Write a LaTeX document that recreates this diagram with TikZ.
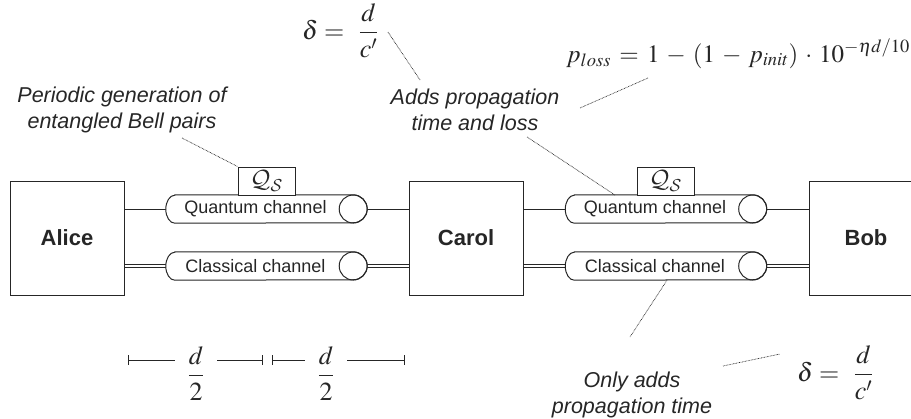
\documentclass[tikz,border=0pt]{standalone}
\usepackage{amsmath}
\usepackage{mathptmx}
\usepackage[no-math]{fontspec}
\setsansfont{Liberation Sans}
\DeclareMathAlphabet{\mathcal}{OMS}{cmsy}{m}{n}
\usetikzlibrary{calc}
\definecolor{ink}{HTML}{262626}

% capsule-shaped channel drawn over an (empty) placeholder node
\newcommand\chanshape[2]{%
  \draw[wire, fill=white] ($(#1.north west)+(9,0)$) -- ($(#1.north east)+(-14,0)$)
     arc[start angle=90, end angle=-90, radius=14pt]
     -- ($(#1.south west)+(9,0)$)
     arc[start angle=270, end angle=90, x radius=9pt, y radius=14pt] -- cycle;
  \draw[wire] ($(#1.east)+(-14,0)$) circle[radius=14pt];
  \node[chanlabel] (#1lbl) at ($(#1.center)+(-11,0)$) {#2};
}

\begin{document}
\begin{tikzpicture}[x=1pt,y=-1pt,
  wire/.style={draw=ink, line width=1pt},
  classic/.style={draw=ink, line width=0.85pt, double=white, double distance=2.5pt},
  leader/.style={draw=ink, line width=0.7pt, dash pattern=on 0.7pt off 0.8pt},
  party/.style={draw=ink, line width=1pt, minimum width=114pt, minimum height=114pt,
    inner sep=0pt, font=\sffamily\bfseries\fontsize{22}{26}\selectfont, text=ink},
  chan/.style={minimum width=201pt, minimum height=28pt, inner sep=0pt},
  chanlabel/.style={font=\sffamily\fontsize{18}{22}\selectfont, text=ink, inner sep=0pt},
  source/.style={draw=ink, line width=1pt, minimum width=57pt, minimum height=28pt,
    inner sep=0pt, fill=white, text=ink, font=\fontsize{25}{30}\selectfont},
  note/.style={font=\sffamily\itshape\fontsize{21.5}{26}\selectfont, align=center,
    text=ink, inner sep=0pt},
  eqn/.style={inner sep=0pt, text=ink, font=\fontsize{26}{30}\selectfont},
]
\useasboundingbox (0,0) rectangle (911,418);
\clip (0,0) rectangle (911,418);

% parties
\node[party] (alice) at (67,238) {Alice};
\node[party] (carol) at (466,238) {Carol};
\node[party] (bob) at (866,238) {Bob};

% channel placeholders
\node[chan] (q1) at (266.5,209) {};
\node[chan] (c1) at (266.5,266) {};
\node[chan] (q2) at (666,209) {};
\node[chan] (c2) at (666,266) {};

% links between parties and channels
\draw[wire] (alice.east |- q1.west) -- (q1.west);
\draw[wire] (q1.east) -- (carol.west |- q1.east);
\draw[wire] (carol.east |- q2.west) -- (q2.west);
\draw[wire] (q2.east) -- (bob.west |- q2.east);
\draw[classic] (alice.east |- c1.west) -- (c1.west);
\draw[classic] (c1.east) -- (carol.west |- c1.east);
\draw[classic] (carol.east |- c2.west) -- (c2.west);
\draw[classic] (c2.east) -- (bob.west |- c2.east);

\chanshape{q1}{Quantum channel}
\chanshape{c1}{Classical channel}
\chanshape{q2}{Quantum channel}
\chanshape{c2}{Classical channel}

% entanglement sources
\node[source] (s1) at (266.5,181) {$\mathcal{Q}_{\mathcal{S}}$};
\node[source] (s2) at (665.5,181) {$\mathcal{Q}_{\mathcal{S}}$};

% annotations
\node[note] (bell) at (122,110) {Periodic generation of\\entangled Bell pairs};
\node[note] (adds) at (475,110) {Adds propagation\\time and loss};
\node[note] (only) at (632,395) {Only adds\\propagation time};

\node[eqn, anchor=base west] (dtop) at (302,39.2) {$\delta =\;\, \dfrac{d}{c'}$};
\node[eqn, anchor=base east, font=\fontsize{25}{30}\selectfont] (ploss) at (910,62)
  {$\medmuskip=5mu \thickmuskip=6mu p_{loss} = 1-(1-p_{init})\cdot 10^{-\eta d/10}$};
\node[eqn, anchor=base west] (dbot) at (797,381.2) {$\delta =\;\, \dfrac{d}{c'}$};

% dotted leaders
\coordinate (bellend) at (182,138);
\coordinate (dtopend) at (388,32);
\coordinate (addstop) at (420,80);
\coordinate (plossend) at (648,78);
\coordinate (addsright) at (580,108);
\coordinate (addsbottom) at (527,137);
\coordinate (q2top) at (615,195);
\coordinate (onlytop) at (630,337);
\coordinate (onlyright) at (723,366);
\coordinate (dbotend) at (780,354);
\draw[leader] (bellend) -- (s1.north west);
\draw[leader] (dtopend) -- (addstop);
\draw[leader] (plossend) -- (addsright);
\draw[leader] (addsbottom) -- (q2top);
\draw[leader] (c2.south) ++(1,0) -- (onlytop);
\draw[leader] (onlyright) -- (dbotend);

% half-distance markers
\coordinate (t1) at (128,360);
\coordinate (t2) at (262,360);
\coordinate (t3) at (272,360);
\coordinate (t4) at (404,360);
\node[eqn, anchor=base, minimum width=42pt] (h1) at (196,382.2) {$\dfrac{d}{2}$};
\node[eqn, anchor=base, minimum width=42pt] (h2) at (326,382.2) {$\dfrac{d}{2}$};
\draw[wire, line width=0.9pt] (t1) -- (h1.west |- t1);
\draw[wire, line width=0.9pt] (h1.east |- t1) -- (t2);
\draw[wire, line width=0.9pt] (t3) -- (h2.west |- t3);
\draw[wire, line width=0.9pt] (h2.east |- t3) -- (t4);
\foreach \t in {t1,t2,t3,t4}
  \draw[wire, line width=0.9pt] ($(\t)+(0,-5)$) -- ($(\t)+(0,5)$);
\end{tikzpicture}
\end{document}
